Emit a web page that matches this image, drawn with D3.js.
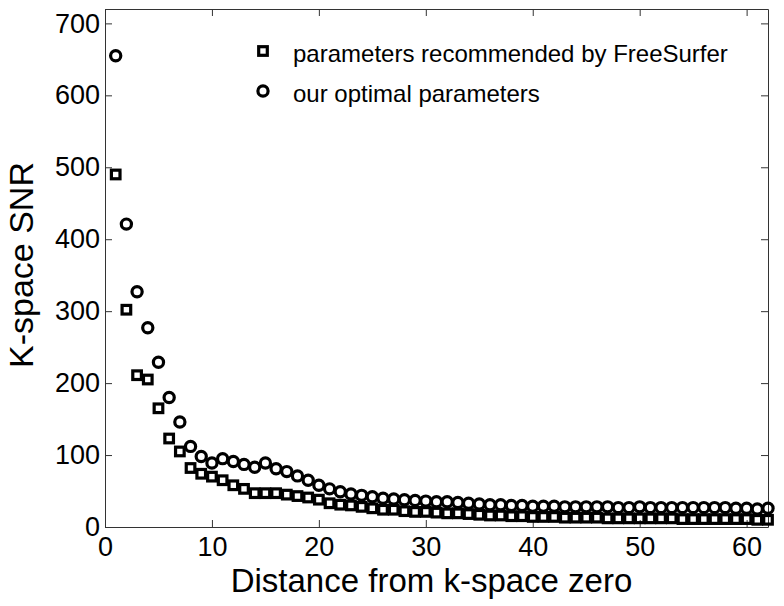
<!DOCTYPE html>
<html>
<head>
<meta charset="utf-8">
<script src="https://cdn.jsdelivr.net/npm/d3@7"></script>
<style>
    body { margin: 0; background: #fff; }
    text { font-family: 'Liberation Sans', Arial, sans-serif; fill: #000; }
    .axis path, .axis line { stroke: #333; stroke-width: 1; }
    .axis text { font-size: 27px; }
    .label { font-size: 34px; }
    .xlabel { font-size: 33px; }
    .legend text { font-size: 24px; }
</style>
</head>
<body>
<div id="myChart"></div>
<script>
// distance from k-space zero
let distance = d3.range(1, 63);

// parameters recommended by FreeSurfer (squares)
let freesurfer = [
    490, 302, 211, 205, 165, 123, 105, 82, 74, 70,
    65, 58, 53, 47, 47, 47, 45, 43, 41, 38,
    33, 31, 30, 28, 26, 24, 24, 22, 21, 21,
    20, 19, 19, 18, 17, 16, 16, 15, 15, 14,
    14, 14, 13, 13, 13, 13, 12, 12, 12, 12,
    12, 12, 12, 11, 11, 11, 11, 11, 11, 11,
    10, 10
];

// our optimal parameters (circles)
let optimal = [
    655, 421, 327, 277, 229, 180, 146, 112, 98, 89,
    95, 91, 87, 83, 89, 81, 77, 71, 65, 58,
    53, 49, 46, 44, 42, 40, 39, 38, 37, 36,
    35, 35, 34, 33, 32, 31, 31, 30, 30, 29,
    29, 29, 28, 28, 28, 28, 28, 27, 27, 28,
    27, 27, 27, 27, 27, 27, 27, 27, 26, 26,
    25, 26
];

let xTicks = [0, 10, 20, 30, 40, 50, 60];
let yTicks = [0, 100, 200, 300, 400, 500, 600, 700];
let legendLabels = ['parameters recommended by FreeSurfer', 'our optimal parameters'];

let margin = { top: 9, right: 16, bottom: 79, left: 105 };
let width = 784 - margin.left - margin.right;
let height = 606 - margin.top - margin.bottom;

let svg = d3
    .select('#myChart')
    .append('svg')
    .attr('width', width + margin.left + margin.right)
    .attr('height', height + margin.top + margin.bottom)
    .append('g')
    .attr('transform', 'translate(' + margin.left + ',' + margin.top + ')');

let x = d3.scaleLinear().domain([0, 62]).range([0, width]);
let y = d3.scaleLinear().domain([0, 720]).range([height, 0]);

// box with inward ticks on all four sides
svg.append('g')
    .attr('class', 'axis')
    .attr('transform', 'translate(0,' + height + ')')
    .call(d3.axisBottom(x).tickValues(xTicks).tickSize(-7).tickSizeOuter(0).tickPadding(10));

svg.append('g')
    .attr('class', 'axis')
    .call(d3.axisLeft(y).tickValues(yTicks).tickSize(-7).tickSizeOuter(0).tickPadding(5));

svg.append('g')
    .attr('class', 'axis')
    .call(d3.axisTop(x).tickValues(xTicks).tickSize(-7).tickSizeOuter(0).tickFormat(''));

svg.append('g')
    .attr('class', 'axis')
    .attr('transform', 'translate(' + width + ',0)')
    .call(d3.axisRight(y).tickValues(yTicks).tickSize(-7).tickSizeOuter(0).tickFormat(''));

svg.selectAll('.axis text').attr('fill', '#000');

// markers
let sq = 8.6;
svg.selectAll('.sq')
    .data(distance)
    .enter()
    .append('rect')
    .attr('class', 'sq')
    .attr('x', (d) => x(d) - sq / 2)
    .attr('y', (d, i) => y(freesurfer[i]) - sq / 2)
    .attr('width', sq)
    .attr('height', sq)
    .attr('fill', 'none')
    .attr('stroke', '#000')
    .attr('stroke-width', 3.2);

svg.selectAll('.circ')
    .data(distance)
    .enter()
    .append('circle')
    .attr('class', 'circ')
    .attr('cx', (d) => x(d))
    .attr('cy', (d, i) => y(optimal[i]))
    .attr('r', 5.1)
    .attr('fill', 'none')
    .attr('stroke', '#000')
    .attr('stroke-width', 3.2);

// axis labels
svg.append('text')
    .attr('class', 'xlabel')
    .attr('x', width / 2 - 5)
    .attr('y', height + 65)
    .style('text-anchor', 'middle')
    .text('Distance from k-space zero');

svg.append('text')
    .attr('class', 'label')
    .attr('transform', 'rotate(-90)')
    .attr('x', -(height / 2) + 3)
    .attr('y', 33 - margin.left)
    .style('text-anchor', 'middle')
    .text('K-space SNR');

// legend
let legend = svg.append('g').attr('class', 'legend');
legendLabels.forEach((lab, i) => {
    let ly = 42 + i * 40;
    if (i === 0) {
        legend.append('rect')
            .attr('x', 158 - sq / 2)
            .attr('y', ly - sq / 2)
            .attr('width', sq)
            .attr('height', sq)
            .attr('fill', 'none')
            .attr('stroke', '#000')
            .attr('stroke-width', 3.2);
    } else {
        legend.append('circle')
            .attr('cx', 158)
            .attr('cy', ly)
            .attr('r', 5.1)
            .attr('fill', 'none')
            .attr('stroke', '#000')
            .attr('stroke-width', 3.2);
    }
    legend.append('text')
        .attr('x', 188)
        .attr('y', ly + 11)
        .text(lab);
});
</script>
</body>
</html>
